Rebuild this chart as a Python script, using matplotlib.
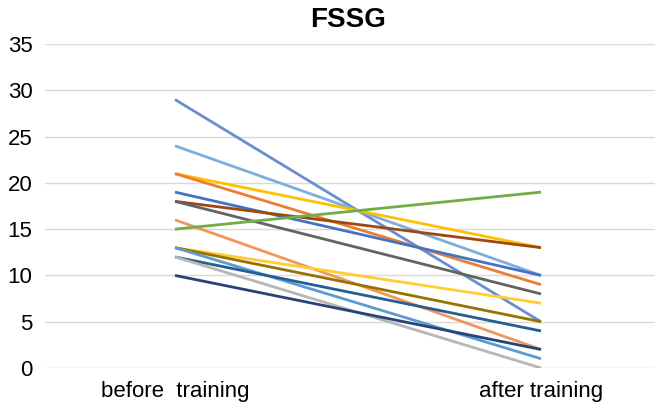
import matplotlib
matplotlib.use("Agg")
import matplotlib.pyplot as plt

plt.rcParams['font.family'] = ['Liberation Sans', 'DejaVu Sans']

categories = ["before  training", "after training"]
before = [29, 24, 21, 21, 19, 18, 18, 16, 15, 13, 13, 13, 12, 12, 10]
after = [5, 10, 13, 9, 10, 13, 8, 2, 19, 7, 5, 1, 4, 0, 2]
colors = ["#698ED0", "#7CAFDD", "#FFC000", "#ED7D31", "#4472C4", "#9E480E",
          "#636363", "#F1975A", "#70AD47", "#FFCD33", "#997300", "#5B9BD5",
          "#255E91", "#B7B7B7", "#264478"]
yticks = [0, 5, 10, 15, 20, 25, 30, 35]

W, H = 661, 409
fig = plt.figure(figsize=(W / 100, H / 100), dpi=100)
ax = fig.add_axes([45 / W, (H - 368) / H, 610 / W, (368 - 44) / H])

x = [0, 1]
for b, a, c in zip(before, after, colors):
    ax.plot(x, [b, a], color=c, lw=2.0, solid_capstyle='butt', zorder=3)

ax.set_ylim(0, 35)
ax.set_xlim(-130 / 366, 1 + 114 / 366)
ax.set_yticks(yticks)
ax.set_yticklabels([str(v) for v in yticks], fontsize=16)
ax.yaxis.grid(True, color="#D9D9D9", lw=1.0)
ax.set_axisbelow(True)
for s in ax.spines.values():
    s.set_visible(False)
ax.tick_params(axis='both', length=0)
ax.tick_params(axis='y', pad=9)

ax.set_xticks(x)
ax.set_xticklabels(categories, fontsize=16)
ax.tick_params(axis='x', pad=9)

fig.text(348 / W, (H - 20) / H, "FSSG", ha='center', va='center',
         fontsize=20, fontweight='bold')

fig.savefig("out.png", dpi=100)
